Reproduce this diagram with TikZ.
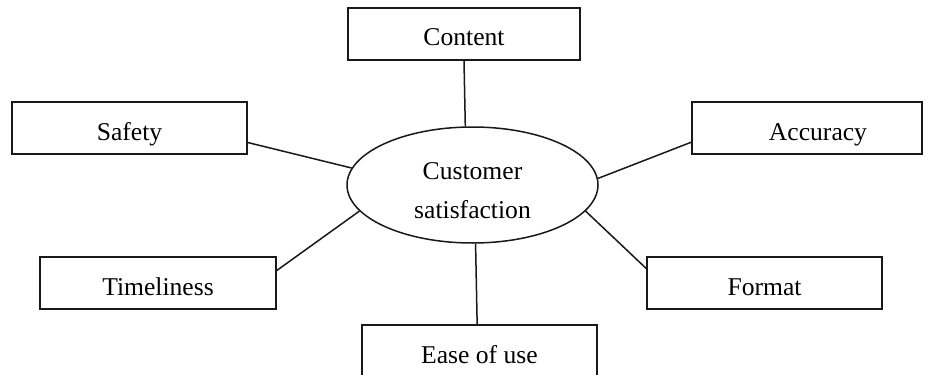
\documentclass[tikz,border=0pt]{standalone}
\usepackage{fontspec}
\setmainfont{Liberation Serif}
\usetikzlibrary{shapes.geometric}
\begin{document}
\begin{tikzpicture}[x=0.5pt,y=-0.5pt,
  every node/.style={font=\fontsize{12.8}{15}\selectfont, text=black},
  box/.style={draw=black!90, line width=0.75pt, rectangle, inner xsep=0pt, inner ysep=0pt,
    minimum width=117.5pt, text height=19pt, text depth=7pt},
  oval/.style={draw=black!90, line width=0.75pt, ellipse, inner sep=0pt,
    minimum width=125.5pt, minimum height=58pt},
  link/.style={draw=black!90, line width=0.75pt}]
\useasboundingbox[fill=white] (0,0) rectangle (933,375);

\node[oval] (cs) at (472.5,185) {};
\node[anchor=base] (cs1) at (472.5,179) {Customer};
\node[anchor=base] (cs2) at (472.5,218) {satisfaction};

\node[box, minimum width=116pt] (content) at (464,34) {Content};
\node[box] (safety) at (129.5,128) {Safety};
\node[box, minimum width=115pt] (accuracy) at (807,128) {\hspace*{11pt}Accuracy};
\node[box, minimum width=118pt] (timeliness) at (158,283) {Timeliness};
\node[box] (format) at (764.5,283) {Format};
\node[box] (ease) at (479.5,351) {Ease of use};

\draw[link] (content.south) -- (cs.97.4);
\draw[link] (safety.-7.3) -- (cs.172.6);
\draw[link] (accuracy.187.4) -- (cs.3.24);
\draw[link] (timeliness.6.3) -- (cs.193.7);
\draw[link] (format.173.7) -- (cs.-13.85);
\draw[link] (ease.95.5) -- (cs.-87.5);
\end{tikzpicture}
\end{document}
